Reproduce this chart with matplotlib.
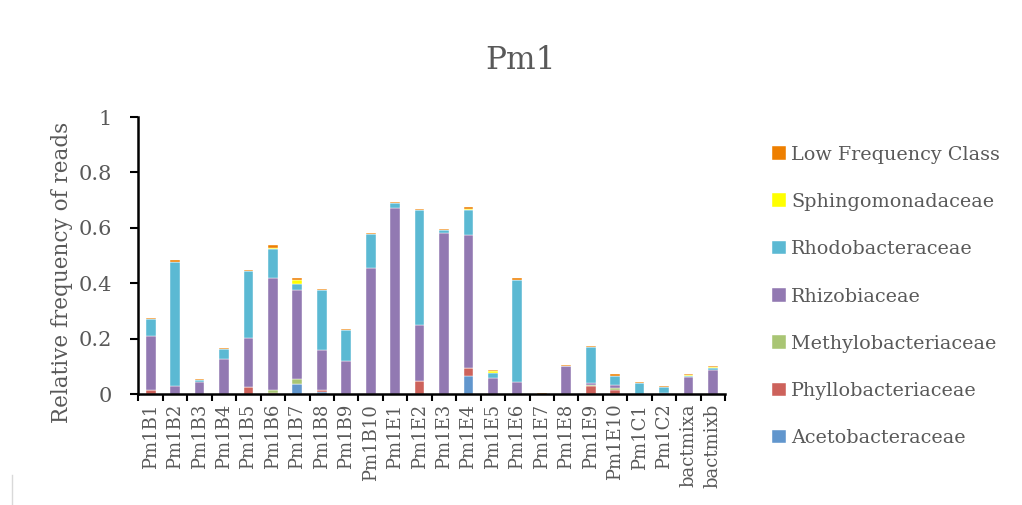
import numpy as np
import matplotlib
matplotlib.use("Agg")
from matplotlib import pyplot as plt

# samples along the x axis
samples = ["Pm1B1", "Pm1B2", "Pm1B3", "Pm1B4", "Pm1B5", "Pm1B6", "Pm1B7", "Pm1B8",
           "Pm1B9", "Pm1B10", "Pm1E1", "Pm1E2", "Pm1E3", "Pm1E4", "Pm1E5", "Pm1E6",
           "Pm1E7", "Pm1E8", "Pm1E9", "Pm1E10", "Pm1C1", "Pm1C2", "bactmixa", "bactmixb"]

# relative frequencies per family (stack order bottom -> top)
acetobacteraceae = [0, 0, 0, 0, 0, 0, 0.037, 0.008, 0, 0, 0, 0, 0, 0.065, 0, 0,
                    0, 0, 0, 0, 0, 0, 0, 0]
phyllobacteriaceae = [0.015, 0, 0, 0, 0.025, 0.005, 0, 0.006, 0, 0, 0, 0.048, 0, 0.029, 0, 0,
                      0, 0, 0.029, 0.016, 0, 0, 0, 0]
methylobacteriaceae = [0, 0, 0, 0, 0, 0.008, 0.018, 0, 0, 0, 0, 0, 0, 0, 0, 0,
                       0, 0, 0.004, 0.004, 0, 0, 0, 0]
rhizobiaceae = [0.195, 0.030, 0.042, 0.127, 0.177, 0.405, 0.322, 0.144, 0.119, 0.455, 0.672, 0.202,
                0.580, 0.480, 0.057, 0.045, 0, 0.100, 0.008, 0.014, 0, 0.004, 0.060, 0.087]
rhodobacteraceae = [0.060, 0.448, 0.010, 0.037, 0.242, 0.105, 0.020, 0.218, 0.112, 0.122, 0.017, 0.415,
                    0.011, 0.089, 0.020, 0.368, 0, 0, 0.127, 0.032, 0.041, 0.022, 0.006, 0.007]
sphingomonadaceae = [0, 0, 0, 0, 0, 0.003, 0.014, 0, 0, 0, 0, 0, 0.002, 0.006, 0.005, 0,
                     0, 0, 0, 0, 0, 0, 0.002, 0.002]
low_frequency = [0.003, 0.004, 0.003, 0.003, 0.004, 0.011, 0.007, 0.004, 0.004, 0.003, 0.005, 0.004,
                 0.004, 0.005, 0.004, 0.005, 0.003, 0.005, 0.007, 0.007, 0.004, 0.004, 0.003, 0.004]

families = ["Acetobacteraceae", "Phyllobacteriaceae", "Methylobacteriaceae", "Rhizobiaceae",
            "Rhodobacteraceae", "Sphingomonadaceae", "Low Frequency Class"]
series = [acetobacteraceae, phyllobacteriaceae, methylobacteriaceae, rhizobiaceae,
          rhodobacteraceae, sphingomonadaceae, low_frequency]
colors = ["#6196cd", "#cd625b", "#a9c574", "#9279b2", "#5bb9d3", "#ffff00", "#ee7f00"]

grey = "#595959"
plt.rcParams["font.family"] = ["DejaVu Serif"]

fig = plt.figure(figsize=(10.22, 5.05), dpi=100)
ax = fig.add_axes([0.1355, 0.2198, 0.574, 0.5485])

x = np.arange(len(samples))
bottom = np.zeros(len(samples))
for name, vals, c in zip(families, series, colors):
    vals = np.array(vals)
    ax.bar(x, vals, width=0.4, bottom=bottom, color=c, label=name,
           edgecolor="white", linewidth=0.3)
    bottom += vals

ax.set_xlim(-0.5, len(samples) - 0.5)
ax.set_ylim(0, 1)
ax.set_yticks([0, 0.2, 0.4, 0.6, 0.8, 1])
ax.set_yticklabels(["0", "0.2", "0.4", "0.6", "0.8", "1"], fontsize=15, color=grey)
ax.set_xticks(x)
ax.set_xticklabels(samples, rotation=90, fontsize=13, color=grey)
ax.set_xticks(np.arange(-0.5, len(samples), 1), minor=True)
ax.tick_params(axis="x", which="major", length=0, pad=7)
ax.tick_params(axis="x", which="minor", length=5, width=1.5, direction="out")
ax.tick_params(axis="y", length=6, width=1.5, direction="out", pad=13)

for s in ["top", "right"]:
    ax.spines[s].set_visible(False)
for s in ["left", "bottom"]:
    ax.spines[s].set_linewidth(1.8)

ax.set_ylabel("Relative frequency of reads", fontsize=15.5, color=grey)
ax.yaxis.set_label_coords(-0.112, 0.44)
fig.text(0.509, 0.88, "Pm1", fontsize=22.5, color=grey, ha="center", va="center")

handles, labels = ax.get_legend_handles_labels()
leg = fig.legend(handles[::-1], labels[::-1], loc="upper left",
                 bbox_to_anchor=(0.748, 0.727), frameon=False, fontsize=13.8,
                 handlelength=0.7, handleheight=0.7, handletextpad=0.3,
                 labelspacing=1.53, borderaxespad=0)
for t in leg.get_texts():
    t.set_color(grey)

# faint chart frame edge on the left
fig.add_artist(plt.Line2D([0.012, 0.012], [0.0, 0.06], color="#d9d9d9", lw=1))

plt.savefig("out.png", dpi=100)
